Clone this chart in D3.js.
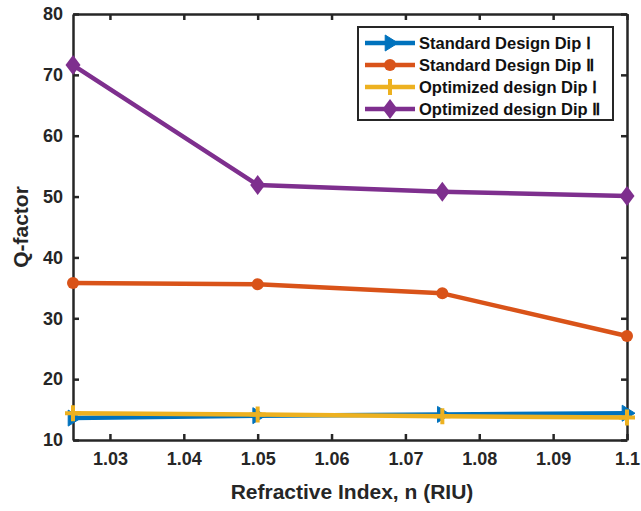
<!DOCTYPE html>
<html>
<head>
<meta charset="utf-8">
<script src="https://cdn.jsdelivr.net/npm/d3@7"></script>
<style>
  html, body { margin: 0; padding: 0; background: #fff; }
  svg { display: block; font-family: "Liberation Sans", Arial, Helvetica, sans-serif; }
</style>
</head>
<body>
<svg id="chart" width="641" height="511"></svg>
<script>
// Refractive index sweep
const refractiveIndex = [1.025, 1.05, 1.075, 1.1];

// Q-factor of each resonance dip
const standardDip1 = [13.6, 14.0, 14.2, 14.4];
const standardDip2 = [35.8, 35.6, 34.1, 27.1];
const optimizedDip1 = [14.4, 14.2, 13.9, 13.7];
const optimizedDip2 = [71.6, 51.9, 50.8, 50.1];

const seriesNames = [
  "Standard Design Dip \u2160",
  "Standard Design Dip \u2161",
  "Optimized design Dip \u2160",
  "Optimized design Dip \u2161"
];

const xTicks = [1.03, 1.04, 1.05, 1.06, 1.07, 1.08, 1.09, 1.1];
const yTicks = [10, 20, 30, 40, 50, 60, 70, 80];

const colors = ["#0072BD", "#D95319", "#EDB120", "#7E2F8E"];
const markers = ["triangle", "circle", "plus", "diamond"];

const svg = d3.select("#chart");
const box = { left: 73, right: 627, top: 14, bottom: 440 };

const x = d3.scaleLinear().domain([1.025, 1.1]).range([box.left, box.right]);
const y = d3.scaleLinear().domain([10, 80]).range([box.bottom, box.top]);

const axisColor = "#262626";
const tickLen = 6;

// Axes with inward ticks on all four sides
const gBottom = svg.append("g").attr("transform", `translate(0,${box.bottom})`)
  .call(d3.axisBottom(x).tickValues(xTicks).tickSizeInner(-tickLen).tickSizeOuter(0)
    .tickPadding(12).tickFormat(d => d3.format("")(+d.toFixed(2))));
const gTop = svg.append("g").attr("transform", `translate(0,${box.top})`)
  .call(d3.axisTop(x).tickValues(xTicks).tickSizeInner(-tickLen).tickSizeOuter(0).tickFormat(""));
const gLeft = svg.append("g").attr("transform", `translate(${box.left},0)`)
  .call(d3.axisLeft(y).tickValues(yTicks).tickSizeInner(-tickLen).tickSizeOuter(0).tickPadding(10));
const gRight = svg.append("g").attr("transform", `translate(${box.right},0)`)
  .call(d3.axisRight(y).tickValues(yTicks).tickSizeInner(-tickLen).tickSizeOuter(0).tickFormat(""));

[gBottom, gTop, gLeft, gRight].forEach(g => {
  g.select(".domain").attr("stroke", axisColor).attr("stroke-width", 2.5);
  g.selectAll(".tick line").attr("stroke", axisColor).attr("stroke-width", 2.5);
  g.selectAll(".tick text").attr("fill", axisColor)
    .style("font-size", "18px").style("font-weight", "bold")
    .style("font-family", '"Liberation Sans", Arial, sans-serif');
});

// Axis titles
svg.append("text")
  .attr("x", (box.left + box.right) / 2 + 2).attr("y", 499)
  .attr("text-anchor", "middle").attr("fill", axisColor)
  .style("font-size", "21px").style("font-weight", "bold")
  .text("Refractive Index, n (RIU)");
svg.append("text")
  .attr("transform", `translate(28,${(box.top + box.bottom) / 2}) rotate(-90)`)
  .attr("text-anchor", "middle").attr("fill", axisColor)
  .style("font-size", "21px").style("font-weight", "bold")
  .text("Q-factor");

// Marker drawing
function drawMarker(g, type, color, size) {
  if (type === "triangle") {
    const s = size;
    g.append("path").attr("d", `M${s},0 L${-s * 0.6},${-s} L${-s * 0.6},${s} Z`)
      .attr("fill", color).attr("stroke", color).attr("stroke-width", 1);
  } else if (type === "circle") {
    g.append("circle").attr("r", size * 0.75).attr("fill", color);
  } else if (type === "plus") {
    g.append("path").attr("d", `M${-size},0 L${size},0 M0,${-size} L0,${size}`)
      .attr("stroke", color).attr("stroke-width", 4);
  } else if (type === "diamond") {
    g.append("path").attr("d", `M0,${-size} L${size * 0.75},0 L0,${size} L${-size * 0.75},0 Z`)
      .attr("fill", color);
  }
}

const allSeries = [standardDip1, standardDip2, optimizedDip1, optimizedDip2];
const line = d3.line().x((d, i) => x(refractiveIndex[i])).y(d => y(d));

allSeries.forEach((vals, k) => {
  const g = svg.append("g");
  g.append("path").datum(vals).attr("d", line)
    .attr("fill", "none").attr("stroke", colors[k]).attr("stroke-width", 4.5)
    .attr("stroke-linejoin", "round");
  vals.forEach((v, i) => {
    const m = g.append("g").attr("transform", `translate(${x(refractiveIndex[i])},${y(v)})`);
    drawMarker(m, markers[k], colors[k], markers[k] === "diamond" ? 10 : 8);
  });
});

// Legend
const legend = svg.append("g");
legend.append("rect").attr("x", 358).attr("y", 27).attr("width", 255).attr("height", 93)
  .attr("fill", "#fff").attr("stroke", axisColor).attr("stroke-width", 2);
seriesNames.forEach((name, k) => {
  const cy = 43 + k * 22;
  legend.append("line").attr("x1", 365).attr("x2", 415).attr("y1", cy).attr("y2", cy)
    .attr("stroke", colors[k]).attr("stroke-width", 4.5);
  const m = legend.append("g").attr("transform", `translate(390,${cy})`);
  drawMarker(m, markers[k], colors[k], markers[k] === "diamond" ? 10 : 8);
  legend.append("text").attr("x", 419).attr("y", cy + 6)
    .attr("fill", "#111").style("font-size", "16.5px").style("font-weight", "bold")
    .text(name);
});
</script>
</body>
</html>
